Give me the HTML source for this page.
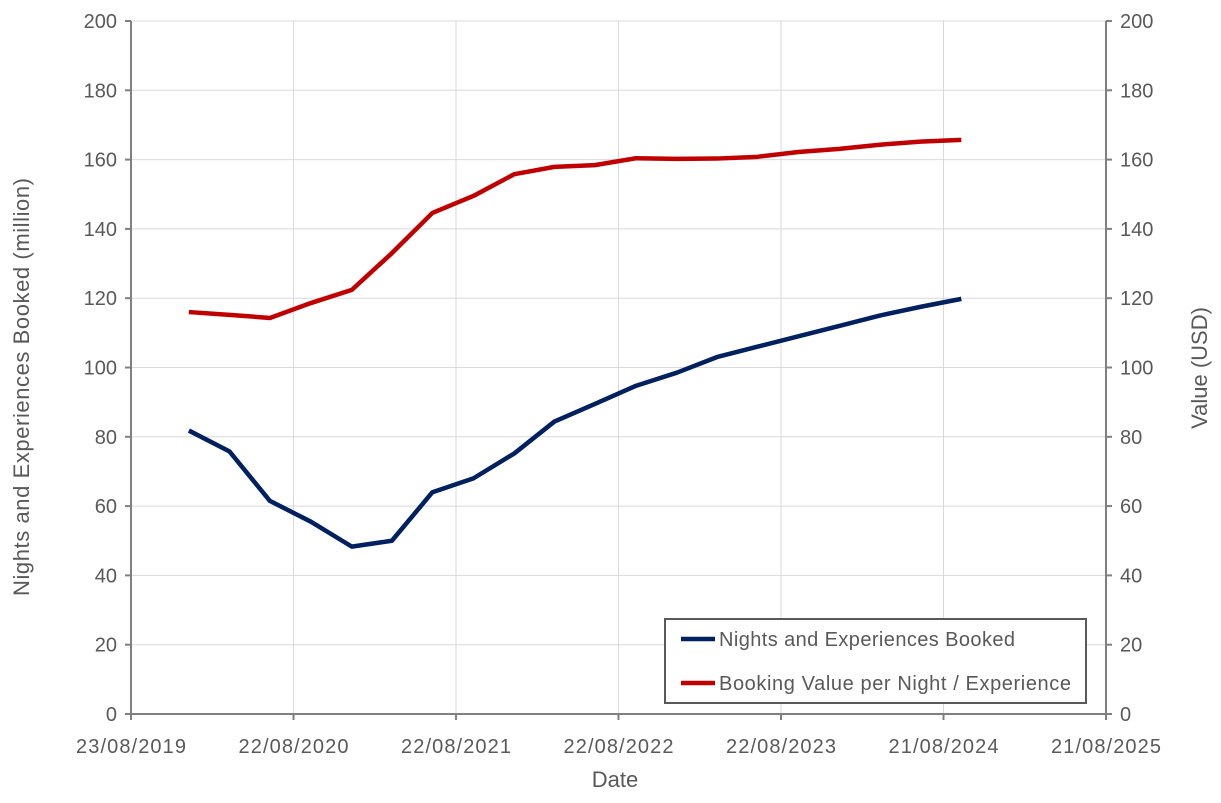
<!DOCTYPE html>
<html><head><meta charset="utf-8"><style>
body{margin:0;background:#fff}
svg text{font-family:"Liberation Sans",sans-serif;fill:#595959}
</style></head><body>
<svg id="c" width="1221" height="798"></svg>
<script>
const dates=["2019-12-31","2020-03-31","2020-06-30","2020-09-30","2020-12-31","2021-03-31","2021-06-30","2021-09-30","2021-12-31","2022-03-31","2022-06-30","2022-09-30","2022-12-31","2023-03-31","2023-06-30","2023-09-30","2023-12-31","2024-03-31","2024-06-30","2024-09-30"];
const nights=[81.8,75.8,61.5,55.5,48.3,50,64,68,75.2,84.4,89.5,94.7,98.5,103,106,109,112,115,117.5,119.8];
const value=[116,115.2,114.3,118.6,122.4,133,144.6,149.5,155.8,157.9,158.4,160.4,160.2,160.3,160.8,162.2,163.1,164.3,165.2,165.7];
const xTicks=["2019-08-23","2020-08-22","2021-08-22","2022-08-22","2023-08-22","2024-08-21","2025-08-21"];
const xTickLabels=["23/08/2019","22/08/2020","22/08/2021","22/08/2022","22/08/2023","21/08/2024","21/08/2025"];
const yTicks=[0,20,40,60,80,100,120,140,160,180,200];
const NS="http://www.w3.org/2000/svg",svg=document.getElementById('c');
const L=131,R=1106,T=21,B=714;
const t0=Date.parse(xTicks[0]),t1=Date.parse(xTicks[xTicks.length-1]);
const X=d=>L+(Date.parse(d)-t0)/(t1-t0)*(R-L);
const Y=v=>B-v/200*(B-T);
function mk(tag,a,txt){const e=document.createElementNS(NS,tag);for(const k in a)e.setAttribute(k,a[k]);if(txt!=null)e.textContent=txt;svg.appendChild(e);return e;}
yTicks.forEach(v=>{
 const g=mk('line',{x1:L,x2:R,y1:Y(v),y2:Y(v),stroke:'#d9d9d9','stroke-width':1});
 
 
 const a=mk('text',{x:L-14,y:Y(v)+7,'text-anchor':'end','font-size':20},v);
 
 
 const b=mk('text',{x:R+14,y:Y(v)+7,'text-anchor':'start','font-size':20},v);
 
 
 mk('line',{x1:L-6,x2:L,y1:Y(v),y2:Y(v),stroke:'#808080','stroke-width':2});
 mk('line',{x1:R,x2:R+6,y1:Y(v),y2:Y(v),stroke:'#808080','stroke-width':2});
});
xTicks.forEach((d,i)=>{
 const x=X(d);
 const g=mk('line',{x1:x,x2:x,y1:T,y2:B,stroke:'#d9d9d9','stroke-width':1});
 
 
 mk('line',{x1:x,x2:x,y1:B,y2:B+6,stroke:'#808080','stroke-width':2});
 const t=mk('text',{x:x,y:B+39,'text-anchor':'middle','font-size':20,textLength:110},xTickLabels[i]);
 
 
});
mk('line',{x1:L,x2:L,y1:T,y2:B,stroke:'#808080','stroke-width':2});
mk('line',{x1:R,x2:R,y1:T,y2:B,stroke:'#808080','stroke-width':2});
mk('line',{x1:L,x2:R,y1:B,y2:B,stroke:'#808080','stroke-width':2});
function series(vals,col,name){
 const p=mk('polyline',{points:vals.map((v,i)=>X(dates[i])+','+Y(v)).join(' '),fill:'none',stroke:col,'stroke-width':4.5,'stroke-linejoin':'round'});
 
 
}
series(value,'#c00000','booking-value-line');
series(nights,'#002060','nights-booked-line');
const xt=mk('text',{x:615,y:787,'text-anchor':'middle','font-size':22},'Date');


const yl=mk('text',{x:0,y:0,'text-anchor':'middle','font-size':22,transform:'translate(29,387) rotate(-90)',textLength:418},'Nights and Experiences Booked (million)');


const yr=mk('text',{x:0,y:0,'text-anchor':'middle','font-size':22,transform:'translate(1207,368) rotate(-90)'},'Value (USD)');


const lg=mk('rect',{x:665,y:619,width:421,height:84,fill:'#fff',stroke:'#595959','stroke-width':2});


[['Nights and Experiences Booked','#002060',639,296],['Booking Value per Night / Experience','#c00000',683,352]].forEach(([n,c,y,w])=>{
 const l=mk('line',{x1:681,x2:715,y1:y,y2:y,stroke:c,'stroke-width':4.5});
 
 
 const t=mk('text',{x:719,y:y+7,'font-size':20,textLength:w},n);
 
 
});
</script>
</body></html>
